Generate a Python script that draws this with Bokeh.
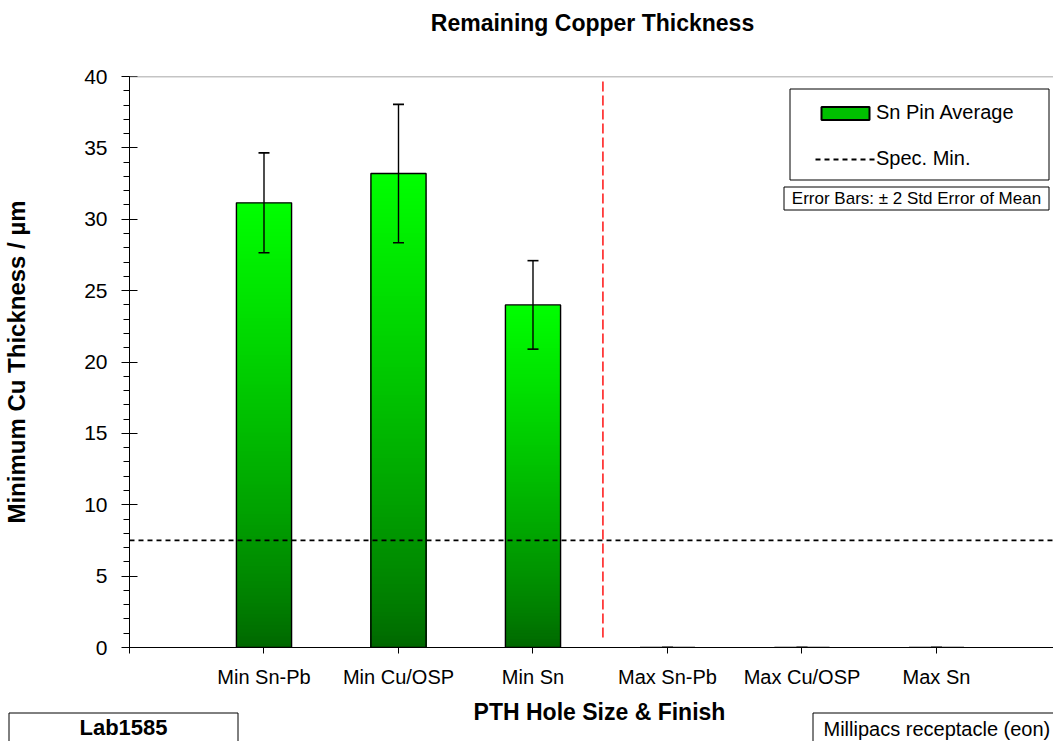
import numpy as np
from bokeh.plotting import figure
from bokeh.layouts import column
from bokeh.models import (Range1d, FixedTicker, ColumnDataSource, Whisker, TeeHead,
                          Span, Label, BoxAnnotation, Legend, LegendItem)
from bokeh.embed import file_html
from bokeh.resources import INLINE

# ---------------- data ----------------
categories = ["Min Sn-Pb", "Min Cu/OSP", "Min Sn", "Max Sn-Pb", "Max Cu/OSP", "Max Sn"]
sn_pin_average = [31.15, 33.2, 24.0, 0.0, 0.0, 0.0]
two_std_err = [3.5, 4.85, 3.1, 0.0, 0.0, 0.0]
spec_min = 7.5
y_major_ticks = [0, 5, 10, 15, 20, 25, 30, 35, 40]
y_minor_ticks = list(range(0, 41))
group_separator_x = 3.52
group_separator_y = [0.7, 39.65]

FONT = "Liberation Sans"
W = 1053
TOP_H, MAIN_H, BOT_H = 60, 635, 46
x_lo, x_hi = 0.0, 6.87
xs = list(range(1, len(categories) + 1))
bar_w = 0.41


def no_align(f):
    if "frame_align" in f.properties():
        f.frame_align = False
    return f


def strip(h):
    f = figure(width=W, height=h, x_range=Range1d(0, W), y_range=Range1d(h, 0),
               output_backend="svg", toolbar_location=None, min_border=0,
               x_axis_type=None, y_axis_type=None)
    f.outline_line_color = None
    f.grid.visible = False
    return no_align(f)


def box(l, r, t, b):
    return BoxAnnotation(left=l, right=r, top=t, bottom=b,
                         left_units="canvas", right_units="canvas",
                         top_units="canvas", bottom_units="canvas",
                         fill_alpha=0, line_color="black", line_alpha=1.0, line_width=1)


# ---------------- title strip ----------------
t = strip(TOP_H)
t.add_layout(Label(x=592, y=22, x_units="canvas", y_units="canvas",
                   text="Remaining Copper Thickness", text_align="center",
                   text_baseline="middle", text_font=FONT, text_font_size="23px",
                   text_font_style="bold", text_color="black"))

# ---------------- main chart ----------------
p = figure(width=W, height=MAIN_H, x_range=Range1d(x_lo, x_hi), y_range=Range1d(0, 40),
           output_backend="svg", toolbar_location=None,
           min_border_left=127, min_border_right=0, min_border_top=16, min_border_bottom=48)
no_align(p)
p.grid.visible = False
p.outline_line_color = None
p.background_fill_color = "white"
p.border_fill_color = "white"

# gradient bars: nested slices from full height (bright) down to short (dark)
N = 120
top_rgb = np.array([0, 255, 0])
bot_rgb = np.array([0, 102, 0])
L, R, T, C = [], [], [], []
for x, v in zip(xs, sn_pin_average):
    if v <= 0:
        continue
    for k in range(N - 1, -1, -1):
        f = ((k + 0.5) / N) ** 0.8
        rgb = (bot_rgb + (top_rgb - bot_rgb) * f).astype(int)
        L.append(x - bar_w / 2)
        R.append(x + bar_w / 2)
        T.append(v * (k + 1) / N)
        C.append("#%02x%02x%02x" % tuple(rgb))
p.quad(left=L, right=R, bottom=0, top=T, fill_color=C, line_color=None)
p.vbar(x=xs, top=sn_pin_average, width=bar_w, fill_color=None, line_color="black", line_width=1.4)

# error bars
src = ColumnDataSource(dict(
    x=xs,
    upper=[v + e for v, e in zip(sn_pin_average, two_std_err)],
    lower=[v - e for v, e in zip(sn_pin_average, two_std_err)],
))
p.add_layout(Whisker(source=src, base="x", upper="upper", lower="lower", level="overlay",
                     line_color="black", line_width=1.4,
                     upper_head=TeeHead(size=11, line_color="black", line_width=1.6),
                     lower_head=TeeHead(size=11, line_color="black", line_width=1.6)))

# spec min & separator
spec_r = p.segment(x0=[x_lo], x1=[x_hi], y0=[spec_min], y1=[spec_min],
                   line_color="black", line_dash="5 4", line_width=1.8)
p.segment(x0=[group_separator_x], x1=[group_separator_x],
          y0=[group_separator_y[0]], y1=[group_separator_y[1]],
          line_color="#ff0000", line_dash="10 4", line_width=1.4)
p.add_layout(Span(location=40, dimension="width", line_color="#8a8a8a", line_width=1.5))

# axes
yax = p.yaxis[0]
yax.ticker = FixedTicker(ticks=y_major_ticks, minor_ticks=y_minor_ticks)
yax.major_tick_in = 8
yax.major_tick_out = 8
yax.minor_tick_in = 0
yax.minor_tick_out = 6
yax.axis_line_color = "black"
yax.major_tick_line_color = "black"
yax.minor_tick_line_color = "black"
yax.major_label_text_font = FONT
yax.major_label_text_font_size = "21px"
yax.major_label_text_color = "black"
yax.major_label_standoff = 14
yax.axis_label = "Minimum Cu Thickness / µm"
yax.axis_label_text_font = FONT
yax.axis_label_text_font_style = "bold"
yax.axis_label_text_font_size = "24px"
yax.axis_label_text_color = "black"
yax.axis_label_standoff = 51

xax = p.xaxis[0]
xax.ticker = FixedTicker(ticks=[0] + xs)
overrides = {0: ""}
for x, c in zip(xs, categories):
    overrides[x] = c
xax.major_label_overrides = overrides
xax.major_tick_in = 0
xax.major_tick_out = 6
xax.minor_tick_line_color = None
xax.axis_line_color = "black"
xax.major_tick_line_color = "black"
xax.major_label_text_font = FONT
xax.major_label_text_font_size = "20px"
xax.major_label_text_color = "black"
xax.major_label_standoff = 12

# legend
legend_bar = p.vbar(x=xs, top=sn_pin_average, width=bar_w, fill_color="#00c000",
                    line_color="black", line_width=2, visible=False)
legend = Legend(items=[LegendItem(label="Sn Pin Average", renderers=[legend_bar]),
                       LegendItem(label="Spec. Min.", renderers=[spec_r])],
                location=(686, 477), margin=0, padding=10, spacing=23,
                glyph_width=60, glyph_height=16, label_height=20, label_standoff=1,
                label_text_font=FONT, label_text_font_size="20px", label_text_color="black",
                border_line_color=None, background_fill_alpha=0)
p.add_layout(legend)
p.add_layout(box(789.5, 1048.5, 28.5, 119.5))

# error bar note
p.add_layout(box(783.5, 1048.5, 126.5, 149.5))
p.add_layout(Label(x=916, y=138, x_units="canvas", y_units="canvas",
                   text="Error Bars: ± 2 Std Error of Mean", text_align="center",
                   text_baseline="middle", text_font=FONT, text_font_size="17px",
                   text_color="black"))

# ---------------- bottom strip: x-axis title and note boxes ----------------
q = strip(BOT_H)
q.add_layout(Label(x=599, y=16, x_units="canvas", y_units="canvas",
                   text="PTH Hole Size & Finish", text_align="center", text_baseline="middle",
                   text_font=FONT, text_font_size="23px", text_font_style="bold",
                   text_color="black"))
q.add_layout(box(8.5, 237.5, 17.5, 80))
q.add_layout(Label(x=123, y=32, x_units="canvas", y_units="canvas",
                   text="Lab1585", text_align="center", text_baseline="middle",
                   text_font=FONT, text_font_size="22px", text_font_style="bold",
                   text_color="black"))
q.add_layout(box(812.5, 1100, 17.5, 80))
q.add_layout(Label(x=823, y=33.5, x_units="canvas", y_units="canvas",
                   text="Millipacs receptacle (eon)", text_align="left", text_baseline="middle",
                   text_font=FONT, text_font_size="20px", text_color="black"))

layout = column(t, p, q, spacing=0)
open("out.html", "w").write(file_html(layout, INLINE))
